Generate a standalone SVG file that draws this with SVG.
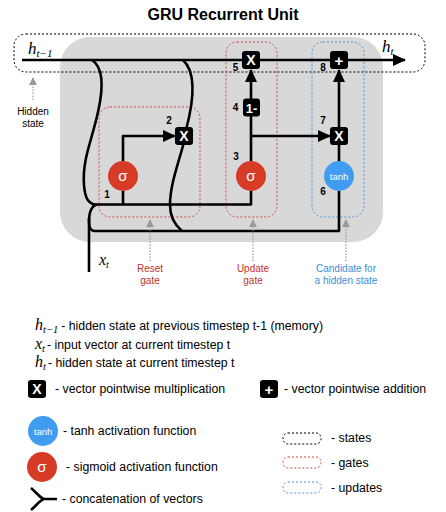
<svg xmlns="http://www.w3.org/2000/svg" width="446" height="512" viewBox="0 0 446 512">
<style>
.ln{fill:none;stroke:#000;stroke-width:2.6;stroke-linejoin:round}
.op{fill:#000}
.opt{font-family:"Liberation Sans",Arial,sans-serif;font-weight:bold;fill:#fff;text-anchor:middle}
.num{font-family:"Liberation Sans",Arial,sans-serif;font-weight:bold;font-size:10px;fill:#000;text-anchor:middle}
.math{font-family:"Liberation Serif","Times New Roman",serif;font-style:italic;fill:#000}
.lg{font-family:"Liberation Sans",Arial,sans-serif;font-size:12.3px;fill:#000}
.sm{font-family:"Liberation Sans",Arial,sans-serif;font-size:10px;text-anchor:middle}
.sig{fill:#d63b26}
.tanh{fill:#3f9cf0}
.dstate{fill:none;stroke:#000;stroke-width:1;stroke-dasharray:2 2}
.dgate{fill:none;stroke:#d0484a;stroke-width:1;stroke-dasharray:2 2}
.dupd{fill:none;stroke:#4a96de;stroke-width:1;stroke-dasharray:2 2}
.ptr{fill:none;stroke:#9a9a9a;stroke-width:1.2;stroke-dasharray:1.5 1.5}
</style>
<defs>
<marker id="ah" markerUnits="userSpaceOnUse" markerWidth="13" markerHeight="12" refX="12" refY="6" orient="auto">
<path d="M0,0 L13,6 L0,12 z" fill="#000"/>
</marker>
<marker id="gh" markerUnits="userSpaceOnUse" markerWidth="8" markerHeight="8" refX="7" refY="4" orient="auto">
<path d="M0,0 L8,4 L0,8 z" fill="#9a9a9a"/>
</marker>
</defs>
<rect width="446" height="512" fill="#fff"/>
<text x="223" y="20" font-family="Liberation Sans,Arial,sans-serif" font-weight="bold" font-size="16" text-anchor="middle">GRU Recurrent Unit</text>

<g id="background">
<rect x="60" y="37" width="323" height="205" rx="30" fill="#d8d8d8"/>
</g>
<g id="regions">
<rect id="states-box" x="14" y="34" width="411" height="38" rx="12" class="dstate"/>
<rect id="reset-box" x="99" y="107" width="101" height="110" rx="11" class="dgate"/>
<rect id="update-box" x="226" y="42" width="51" height="175" rx="11" class="dgate"/>
<rect id="candidate-box" x="312" y="42" width="52" height="175" rx="11" class="dupd"/>
</g>

<g id="connectors">
<path class="ln" d="M22,60 L405,60" marker-end="url(#ah)"/>
<path class="ln" d="M92,60 C104,68 103,90 98,112 C92,140 82,160 84,185 C85,198 88,203 95,204.5"/>
<path class="ln" d="M89,272 L89,222 C89,212 91,206 97,204.5"/>
<path class="ln" d="M92,204.5 L251,204.5 L251,191"/>
<path class="ln" d="M123,204.5 L123,191"/>
<path class="ln" d="M89,218 C89,225 89,231 95,231 L339,231 L339,191"/>
<path class="ln" d="M183,60 C196,72 194,100 186,130"/>
<path class="ln" d="M184,142 C178,165 170,185 170,205 C170,218 176,226 182,231"/>
<path class="ln" d="M123,161 L123,136 L175,136" marker-end="url(#ah)"/>
<path class="ln" d="M251,161 L251,116"/>
<path class="ln" d="M251,136 L330,136" marker-end="url(#ah)"/>
<path class="ln" d="M251,99 L251,70" marker-end="url(#ah)"/>
<path class="ln" d="M339,161 L339,145"/>
<path class="ln" d="M339,127 L339,70" marker-end="url(#ah)"/>
<path class="ptr" d="M33,100 L33,78" marker-end="url(#gh)"/>
<path class="ptr" d="M150,261 L150,220" marker-end="url(#gh)"/>
<path class="ptr" d="M253,261 L253,220" marker-end="url(#gh)"/>
<path class="ptr" d="M346,261 L346,220" marker-end="url(#gh)"/>
</g>

<g id="sigma-reset">
<circle cx="123" cy="176" r="15" class="sig"/>
<text x="123" y="181" font-family="Liberation Sans,Arial,sans-serif" font-size="15" fill="#fff" text-anchor="middle">σ</text>
</g>
<g id="sigma-update">
<circle cx="251" cy="176" r="15" class="sig"/>
<text x="251" y="181" font-family="Liberation Sans,Arial,sans-serif" font-size="15" fill="#fff" text-anchor="middle">σ</text>
</g>
<g id="tanh-cand">
<circle cx="339" cy="176" r="15" class="tanh"/>
<text x="339" y="179.5" font-family="Liberation Sans,Arial,sans-serif" font-size="9.5" fill="#fff" text-anchor="middle">tanh</text>
</g>
<g id="mul-reset">
<rect x="175" y="127" width="18" height="18" rx="3" class="op"/>
<text x="184" y="141" class="opt" font-size="14">X</text>
</g>
<g id="mul-update">
<rect x="242" y="51" width="18" height="18" rx="3" class="op"/>
<text x="251" y="65" class="opt" font-size="14">X</text>
</g>
<g id="one-minus">
<rect x="243" y="98.5" width="17" height="18" rx="3" class="op"/>
<text x="251.5" y="112.5" class="opt" font-size="13">1-</text>
</g>
<g id="mul-cand">
<rect x="330" y="127" width="18" height="18" rx="3" class="op"/>
<text x="339" y="141" class="opt" font-size="14">X</text>
</g>
<g id="add-out">
<rect x="330" y="51" width="18" height="18" rx="3" class="op"/>
<text x="339" y="65.5" class="opt" font-size="15">+</text>
</g>

<g id="numbers">
<text x="107" y="198" class="num">1</text>
<text x="169" y="124" class="num">2</text>
<text x="236" y="160" class="num">3</text>
<text x="235.5" y="111" class="num">4</text>
<text x="235.5" y="71" class="num">5</text>
<text x="323" y="195" class="num">6</text>
<text x="323" y="124" class="num">7</text>
<text x="323" y="71" class="num">8</text>
</g>

<g id="labels">
<text x="28" y="54" class="math" font-size="17">h<tspan font-size="11" dy="3">t−1</tspan></text>
<text x="382" y="52" class="math" font-size="17">h<tspan font-size="11" dy="3">t</tspan></text>
<text x="99" y="265" class="math" font-size="16">x<tspan font-size="10" dy="3">t</tspan></text>
<text x="33" y="115" class="sm" fill="#000" font-size="9.5">Hidden</text>
<text x="33" y="127" class="sm" fill="#000" font-size="9.5">state</text>
<text x="150" y="272" class="sm" fill="#c4302b">Reset</text>
<text x="150" y="283.5" class="sm" fill="#c4302b">gate</text>
<text x="253" y="272" class="sm" fill="#c4302b">Update</text>
<text x="253" y="283.5" class="sm" fill="#c4302b">gate</text>
<text x="346" y="272" class="sm" fill="#3b8ed8">Candidate for</text>
<text x="346" y="283.5" class="sm" fill="#3b8ed8">a hidden state</text>
</g>

<g id="legend">
<text x="35" y="330" class="math" font-size="16">h<tspan font-size="10.5" dy="3">t−1</tspan><tspan class="lg" font-style="normal" dy="-3" dx="3">- hidden state at previous timestep t-1 (memory)</tspan></text>
<text x="35" y="349" class="math" font-size="16">x<tspan font-size="10.5" dy="3">t</tspan><tspan class="lg" font-style="normal" dy="-3" dx="2">- input vector at current timestep t</tspan></text>
<text x="35" y="367" class="math" font-size="16">h<tspan font-size="10.5" dy="3">t</tspan><tspan class="lg" font-style="normal" dy="-3" dx="2">- hidden state at current timestep t</tspan></text>
<g id="legend-mul">
<rect x="28" y="380" width="18" height="18" rx="3" class="op"/>
<text x="37" y="394" class="opt" font-size="14">X</text>
<text x="55" y="393" class="lg">- vector pointwise multiplication</text>
</g>
<g id="legend-add">
<rect x="260" y="380" width="18" height="18" rx="3" class="op"/>
<text x="269" y="394.5" class="opt" font-size="15">+</text>
<text x="284" y="393" class="lg">- vector pointwise addition</text>
</g>
<g id="legend-tanh">
<circle cx="43" cy="431" r="15" class="tanh"/>
<text x="43" y="434.5" font-family="Liberation Sans,Arial,sans-serif" font-size="9.5" fill="#fff" text-anchor="middle">tanh</text>
<text x="63" y="435" class="lg">- tanh activation function</text>
</g>
<g id="legend-sig">
<circle cx="42" cy="467" r="15" class="sig"/>
<text x="42" y="472" font-family="Liberation Sans,Arial,sans-serif" font-size="15" fill="#fff" text-anchor="middle">σ</text>
<text x="66" y="471" class="lg">- sigmoid activation function</text>
</g>
<g id="legend-concat">
<path class="ln" stroke-width="2" d="M31,488 C36,492 40,498 44,499 M31,510 C36,506 40,500 44,499 L57,499"/>
<text x="62" y="503" class="lg">- concatenation of vectors</text>
</g>
<g id="legend-boxes">
<rect x="283" y="433" width="38" height="11" rx="5" class="dstate"/>
<text x="331" y="442" class="lg">-  states</text>
<rect x="283" y="457" width="38" height="11" rx="5" class="dgate"/>
<text x="331" y="467" class="lg">-  gates</text>
<rect x="283" y="482" width="38" height="11" rx="5" class="dupd"/>
<text x="331" y="492" class="lg">-  updates</text>
</g>
</g>
</svg>
